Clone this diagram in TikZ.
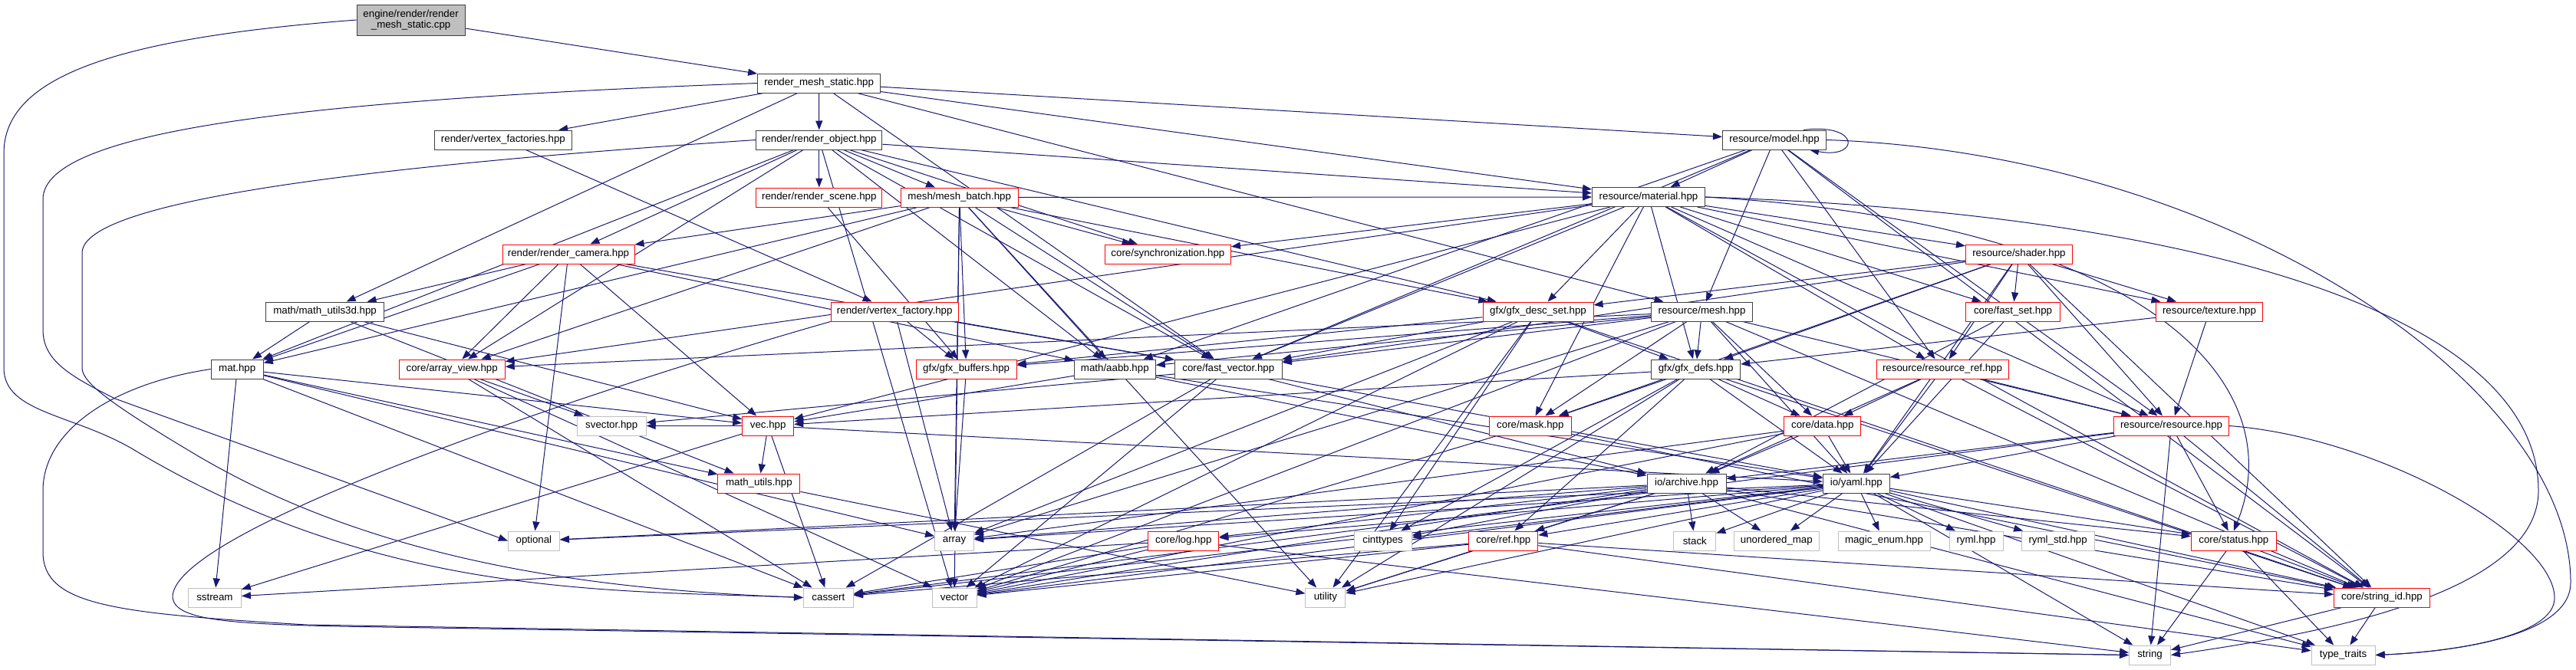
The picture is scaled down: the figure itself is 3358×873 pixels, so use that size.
\documentclass[tikz,border=0pt]{standalone}
\usepackage{fontspec}
\setmainfont{Liberation Sans}
\usetikzlibrary{arrows.meta}
\pgfdeclarelayer{bg}
\pgfsetlayers{bg,main}
\definecolor{edgeblue}{RGB}{25,25,112}
\definecolor{boxdark}{RGB}{64,64,64}
\definecolor{boxgray}{RGB}{191,191,191}
\definecolor{boxred}{RGB}{255,0,0}
\begin{document}
\begin{tikzpicture}[x=1pt,y=-1pt,
  nb/.style={draw=boxdark, line width=1pt, fill=white, inner sep=0pt, minimum height=25pt, text=black, font=\fontsize{13.3}{16}\selectfont},
  rb/.style={nb, draw=boxred},
  gb/.style={nb, draw=boxgray},
  cb/.style={nb, fill=boxgray, minimum height=40pt, align=center},
  e/.style={draw=edgeblue, line width=1pt, -{Triangle[length=12pt,width=9pt]}}]
\useasboundingbox (0,0) rectangle (3358,873);
% nodes
\node[cb, minimum width=141pt] (cpp) at (535.6,26) {engine/render/render\\[-2pt]\_mesh\_static.cpp};
\node[nb, minimum width=160pt] (rms) at (1067.6,108.5) {render\_mesh\_static.hpp};
\node[nb, minimum width=179pt] (vfs) at (655.9,182.5) {render/vertex\_factories.hpp};
\node[nb, minimum width=164pt] (robj) at (1067.8,182.5) {render/render\_object.hpp};
\node[rb, minimum width=164pt] (rscene) at (1067.8,257.5) {render/render\_scene.hpp};
\node[rb, minimum width=172pt] (rcam) at (741,331.5) {render/render\_camera.hpp};
\node[rb, minimum width=166pt] (vfy) at (1166.2,406.5) {render/vertex\_factory.hpp};
\node[rb, minimum width=153pt] (mb) at (1250.7,257.5) {mesh/mesh\_batch.hpp};
\node[rb, minimum width=164pt] (sync) at (1522.4,331.5) {core/synchronization.hpp};
\node[nb, minimum width=154pt] (mu3d) at (423.6,406.5) {math/math\_utils3d.hpp};
\node[nb, minimum width=68pt] (mat) at (309.2,481.5) {mat.hpp};
\node[rb, minimum width=138pt] (av) at (589.2,481.5) {core/array\_view.hpp};
\node[gb, minimum width=69pt] (sstream) at (279.9,779.5) {sstream};
\node[gb, minimum width=90pt] (svec) at (797.2,555.5) {svector.hpp};
\node[rb, minimum width=67pt] (vec) at (1001.2,555.5) {vec.hpp};
\node[rb, minimum width=107pt] (mu) at (989.4,630.5) {math\_utils.hpp};
\node[gb, minimum width=67pt] (opt) at (695.9,705.5) {optional};
\node[gb, minimum width=65pt] (cassert) at (1079.9,779.5) {cassert};
\node[rb, minimum width=131pt] (gbuf) at (1259.6,481.5) {gfx/gfx\_buffers.hpp};
\node[nb, minimum width=106pt] (aabb) at (1453.3,481.5) {math/aabb.hpp};
\node[nb, minimum width=140pt] (fvec) at (1601.3,481.5) {core/fast\_vector.hpp};
\node[gb, minimum width=51pt] (arr) at (1244,705.5) {array};
\node[rb, minimum width=92pt] (log) at (1542.8,705.5) {core/log.hpp};
\node[gb, minimum width=58pt] (vector) at (1244,779.5) {vector};
\node[nb, minimum width=147pt] (mtl) at (2149,257) {resource/material.hpp};
\node[rb, minimum width=144pt] (dset) at (2005,406.5) {gfx/gfx\_desc\_set.hpp};
\node[nb, minimum width=132pt] (rmesh) at (2218.5,406.5) {resource/mesh.hpp};
\node[nb, minimum width=135pt] (model) at (2313,182.5) {resource/model.hpp};
\node[rb, minimum width=139pt] (shader) at (2631.9,331.5) {resource/shader.hpp};
\node[rb, minimum width=123pt] (fset) at (2624,406.5) {core/fast\_set.hpp};
\node[rb, minimum width=139pt] (tex) at (2880,406.5) {resource/texture.hpp};
\node[nb, minimum width=116pt] (gdefs) at (2210.6,481.5) {gfx/gfx\_defs.hpp};
\node[rb, minimum width=107pt] (mask) at (1994.8,555.5) {core/mask.hpp};
\node[nb, minimum width=103pt] (arch) at (2198.5,630.5) {io/archive.hpp};
\node[gb, minimum width=75pt] (cint) at (1802.6,705.5) {cinttypes};
\node[rb, minimum width=90pt] (ref) at (1959.8,705.5) {core/ref.hpp};
\node[gb, minimum width=55pt] (stack) at (2209.3,705.5) {stack};
\node[gb, minimum width=52pt] (util) at (1727.9,779.5) {utility};
\node[rb, minimum width=172pt] (rref) at (2532,481.5) {resource/resource\_ref.hpp};
\node[rb, minimum width=100pt] (data) at (2375.8,555.5) {core/data.hpp};
\node[nb, minimum width=87pt] (yaml) at (2419.8,630.5) {io/yaml.hpp};
\node[gb, minimum width=111pt] (umap) at (2315.8,705.5) {unordered\_map};
\node[gb, minimum width=120pt] (menum) at (2456,705.5) {magic\_enum.hpp};
\node[gb, minimum width=70pt] (ryml) at (2576,705.5) {ryml.hpp};
\node[gb, minimum width=95pt] (rymlstd) at (2682.6,705.5) {ryml\_std.hpp};
\node[gb, minimum width=54pt] (string) at (2802.5,854.5) {string};
\node[rb, minimum width=150pt] (res) at (2830.5,555.5) {resource/resource.hpp};
\node[rb, minimum width=111pt] (status) at (2911.8,705.5) {core/status.hpp};
\node[rb, minimum width=125pt] (sid) at (3105,779.5) {core/string\_id.hpp};
\node[gb, minimum width=83pt] (tt) at (3054.6,854.5) {type\_traits};
% edges
\begin{pgfonlayer}{bg}
\foreach \a/\b in {cpp/rms,
 rms/vfs, rms/robj, rms/model, rms/mtl, rms/rmesh, rms/fvec, rms/mu3d,
 vfs/vfy,
 robj/rscene, robj/rcam, robj/mb, robj/sync, robj/mtl, robj/mat, robj/av, robj/dset, robj/fvec, robj/aabb, robj/vector,
 rscene/gbuf,
 rcam/mat, rcam/mu3d, rcam/av, rcam/vec, rcam/opt, rcam/aabb, rcam/fvec,
 mb/rcam, mb/sync, mb/mtl, mb/gbuf, mb/dset, mb/aabb, mb/fvec, mb/mat, mb/av, mb/arr, mb/vector, mb/util,
 vfy/gbuf, vfy/arr, vfy/fvec,
 mtl/sync, mtl/shader, mtl/dset, mtl/rref, mtl/res, mtl/fset, mtl/tex, mtl/fvec, mtl/av, mtl/mask, mtl/gdefs, mtl/sid, mtl/vec,
 model/mtl, model/rmesh, model/rref, model/res, model/fvec, model/aabb, model/sid,
 shader/fset, shader/tex, shader/rref, shader/dset, shader/fvec, shader/gdefs, shader/res, shader/yaml, shader/sid, shader/mask,
 rmesh/gbuf, rmesh/aabb, rmesh/fvec, rmesh/av, rmesh/gdefs, rmesh/mask, rmesh/data, rmesh/yaml, rmesh/res, rmesh/vector, rmesh/arr, rmesh/sid,
 dset/gbuf, dset/fvec, dset/gdefs, dset/cint, dset/util, dset/arr, dset/sid, dset/vector,
 fset/yaml, fset/arch,
 tex/res, tex/gdefs,
 rref/res, rref/yaml, rref/arch, rref/data, rref/sid,
 gdefs/mask, gdefs/vec, gdefs/data, gdefs/yaml, gdefs/cint, gdefs/sid, gdefs/ref, gdefs/util,
 gbuf/arr,
 aabb/vec, aabb/arch, aabb/yaml,
 fvec/svec, fvec/arch, fvec/yaml, fvec/vector, fvec/cassert,
 av/svec, av/vector, av/cassert,
 mat/vec, mat/mu, mat/sstream, mat/cassert, mat/arr,
 mu3d/mat, mu3d/vec, mu3d/mu,
 vec/svec, vec/mu, vec/cassert, vec/sstream, vec/yaml,
 mu/util,
 data/yaml, data/arch, data/vector, data/arr,
 mask/vector, mask/sid,
 arch/opt, arch/arr, arch/vector, arch/cint, arch/ref, arch/umap, arch/stack, arch/util, arch/log, arch/status, arch/sid, arch/tt,
 yaml/umap, yaml/menum, yaml/ryml, yaml/rymlstd, yaml/stack, yaml/status, yaml/sid, yaml/tt, yaml/string, yaml/cint, yaml/ref, yaml/arr, yaml/vector, yaml/util, yaml/log, yaml/opt, yaml/cassert,
 ref/util, ref/tt, ref/cassert, ref/vector, ref/sid,
 log/string, log/vector, log/sstream, log/cassert,
 status/string, status/tt, status/sid,
 sid/string, sid/tt,
 res/yaml, res/string, res/sid, res/status, res/cassert, res/arch}
 {\draw[e] (\a) -- (\b);}
% curved long edges
\draw[e] (model.north east) ++(-30,0) .. controls (2425,160) and (2425,208) .. ([xshift=-22pt]model.south east);
\draw[e] (cpp.west) .. controls (150,50) and (5,100) .. (5,200) -- (5,480) .. controls (5,540) and (100,540) .. (180,590) .. controls (500,780) and (800,770) .. (cassert.west);
\draw[e] (rms.west) .. controls (400,130) and (56,170) .. (56,260) -- (56,430) .. controls (56,470) and (90,490) .. (150,520) -- (opt.west);
\draw[e] (robj.west) .. controls (500,215) and (107,260) .. (107,330) -- (107,480) .. controls (107,500) and (150,530) .. (250,590) .. controls (500,740) and (800,770) .. (cassert.west);
\draw[e] (mat.west) .. controls (150,500) and (56,560) .. (56,640) -- (56,720) .. controls (56,790) and (150,800) .. (400,815) -- (string.west);
\draw[e] (vfy.south west) .. controls (800,500) and (220,690) .. (225,780) .. controls (230,810) and (300,815) .. (500,818) -- (string.west);
\draw[e] (mtl.east) .. controls (2900,280) and (3309,420) .. (3309,640) .. controls (3309,780) and (3000,830) .. (string.east);
\draw[e] (model.east) .. controls (2900,200) and (3351,500) .. (3351,760) .. controls (3351,830) and (3200,850) .. (tt.east);
\draw[e] (res.east) .. controls (3100,570) and (3330,700) .. (3330,780) .. controls (3330,830) and (3200,850) .. (tt.east);
\draw[e] (mtl.east) .. controls (2800,290) and (2990,500) .. (status.north);
\end{pgfonlayer}
\end{tikzpicture}
\end{document}
